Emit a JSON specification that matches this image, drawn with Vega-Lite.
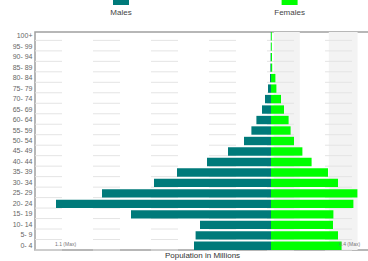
{
  "$schema": "https://vega.github.io/schema/vega-lite/v6.json",
  "padding": 0,
  "spacing": 10,
  "bounds": "full",
  "config": {
    "font": "Liberation Sans",
    "view": {"stroke": null}
  },
  "datasets": {
    "pop": [
      {"age": "100+", "sex": "Males", "value": 0.001}, {"age": "100+", "sex": "Females", "value": 0.004},
      {"age": "95- 99", "sex": "Males", "value": 0.001}, {"age": "95- 99", "sex": "Females", "value": 0.004},
      {"age": "90- 94", "sex": "Males", "value": 0.002}, {"age": "90- 94", "sex": "Females", "value": 0.005},
      {"age": "85- 89", "sex": "Males", "value": 0.003}, {"age": "85- 89", "sex": "Females", "value": 0.006},
      {"age": "80- 84", "sex": "Males", "value": 0.005}, {"age": "80- 84", "sex": "Females", "value": 0.022},
      {"age": "75- 79", "sex": "Males", "value": 0.015}, {"age": "75- 79", "sex": "Females", "value": 0.027},
      {"age": "70- 74", "sex": "Males", "value": 0.03}, {"age": "70- 74", "sex": "Females", "value": 0.05},
      {"age": "65- 69", "sex": "Males", "value": 0.045}, {"age": "65- 69", "sex": "Females", "value": 0.065},
      {"age": "60- 64", "sex": "Males", "value": 0.073}, {"age": "60- 64", "sex": "Females", "value": 0.088},
      {"age": "55- 59", "sex": "Males", "value": 0.098}, {"age": "55- 59", "sex": "Females", "value": 0.098},
      {"age": "50- 54", "sex": "Males", "value": 0.135}, {"age": "50- 54", "sex": "Females", "value": 0.115},
      {"age": "45- 49", "sex": "Males", "value": 0.215}, {"age": "45- 49", "sex": "Females", "value": 0.157},
      {"age": "40- 44", "sex": "Males", "value": 0.32}, {"age": "40- 44", "sex": "Females", "value": 0.203},
      {"age": "35- 39", "sex": "Males", "value": 0.47}, {"age": "35- 39", "sex": "Females", "value": 0.285},
      {"age": "30- 34", "sex": "Males", "value": 0.585}, {"age": "30- 34", "sex": "Females", "value": 0.335},
      {"age": "25- 29", "sex": "Males", "value": 0.845}, {"age": "25- 29", "sex": "Females", "value": 0.432},
      {"age": "20- 24", "sex": "Males", "value": 1.075}, {"age": "20- 24", "sex": "Females", "value": 0.412},
      {"age": "15- 19", "sex": "Males", "value": 0.70}, {"age": "15- 19", "sex": "Females", "value": 0.312},
      {"age": "10- 14", "sex": "Males", "value": 0.355}, {"age": "10- 14", "sex": "Females", "value": 0.31},
      {"age": "5- 9", "sex": "Males", "value": 0.377}, {"age": "5- 9", "sex": "Females", "value": 0.335},
      {"age": "0- 4", "sex": "Males", "value": 0.385}, {"age": "0- 4", "sex": "Females", "value": 0.353}
    ],
    "bands": [
      {"start": 0.014, "end": 0.144},
      {"start": 0.289, "end": 0.433}
    ],
    "legend": [
      {"sex": "Males", "pos": -0.75},
      {"sex": "Females", "pos": 0.093}
    ]
  },
  "vconcat": [
    {
      "width": 334,
      "height": 20,
      "data": {"name": "legend"},
      "encoding": {
        "x": {"field": "pos", "type": "quantitative", "scale": {"domain": [-1.18, 0.49], "nice": false, "zero": false}, "axis": null},
        "color": {"field": "sex", "type": "nominal", "scale": {"domain": ["Males", "Females"], "range": ["#007a7a", "#00ff00"]}, "legend": null}
      },
      "layer": [
        {
          "mark": {"type": "tick", "orient": "horizontal", "size": 16, "thickness": 5, "opacity": 1},
          "encoding": {
            "y": {"datum": 2.5, "type": "quantitative", "scale": {"domain": [0, 20], "reverse": true, "nice": false}, "axis": {"labels": false, "ticks": false, "domain": false, "grid": false, "title": null, "minExtent": 34, "maxExtent": 34}}
          }
        },
        {
          "mark": {"type": "text", "fontSize": 8, "color": "#444", "baseline": "middle"},
          "encoding": {
            "y": {"datum": 12.5, "type": "quantitative"},
            "text": {"field": "sex"},
            "color": {"value": "#444"}
          }
        }
      ]
    },
    {
      "width": 334,
      "height": 218,
      "view": {"stroke": "#a0a0a0", "strokeWidth": 1.5},
      "encoding": {
        "y": {
          "field": "age", "type": "nominal",
          "scale": {"domain": ["100+", "95- 99", "90- 94", "85- 89", "80- 84", "75- 79", "70- 74", "65- 69", "60- 64", "55- 59", "50- 54", "45- 49", "40- 44", "35- 39", "30- 34", "25- 29", "20- 24", "15- 19", "10- 14", "5- 9", "0- 4"], "paddingInner": 0.2, "paddingOuter": 0},
          "axis": {"title": null, "ticks": false, "domain": false, "labelFontSize": 7, "labelColor": "#666", "labelPadding": 3, "minExtent": 34, "maxExtent": 34}
        }
      },
      "layer": [
        {
          "data": {"name": "bands"},
          "mark": {"type": "rect", "color": "#f3f3f3"},
          "encoding": {
            "y": null,
            "x": {"field": "start", "type": "quantitative"},
            "x2": {"field": "end"}
          }
        },
        {
          "data": {"name": "pop"},
          "transform": [{"filter": "datum.sex == 'Males'"}],
          "mark": {"type": "rule", "color": "#e4e4e4", "strokeWidth": 1, "strokeDash": [27, 31]},
          "encoding": {
            "y": {
              "field": "age", "type": "nominal", "bandPosition": 1
            },
            "x": {"datum": -1.18, "type": "quantitative"},
            "x2": {"datum": 0.49}
          }
        },
        {
          "data": {"name": "pop"},
          "transform": [{"calculate": "datum.sex == 'Males' ? -datum.value : datum.value", "as": "signed"}],
          "mark": {"type": "bar"},
          "encoding": {
            "x": {
              "field": "signed", "type": "quantitative",
              "scale": {"domain": [-1.18, 0.49], "nice": false, "zero": false},
              "axis": {"title": "Population in Millions", "labels": false, "ticks": false, "domain": false, "grid": false, "titleFontSize": 8, "titleColor": "#333", "titleFontWeight": "normal", "titlePadding": 1}
            },
            "color": {"field": "sex", "type": "nominal", "scale": {"domain": ["Males", "Females"], "range": ["#007a7a", "#00ff00"]}, "legend": null}
          }
        },
        {
          "data": {"name": "pop"},
          "transform": [{"filter": "datum.age == '0- 4' && datum.sex == 'Males'"}],
          "mark": {"type": "text", "fontSize": 5, "color": "#777", "align": "left", "baseline": "middle", "dy": -2},
          "encoding": {
            "x": {"datum": -1.08, "type": "quantitative"},
            "text": {"value": "1.1 (Max)"}
          }
        },
        {
          "data": {"name": "pop"},
          "transform": [{"filter": "datum.age == '0- 4' && datum.sex == 'Males'"}],
          "mark": {"type": "text", "fontSize": 5, "color": "#777", "align": "left", "baseline": "middle", "dy": -2},
          "encoding": {
            "x": {"datum": 0.34, "type": "quantitative"},
            "text": {"value": "0.4 (Max)"}
          }
        }
      ]
    }
  ]
}
